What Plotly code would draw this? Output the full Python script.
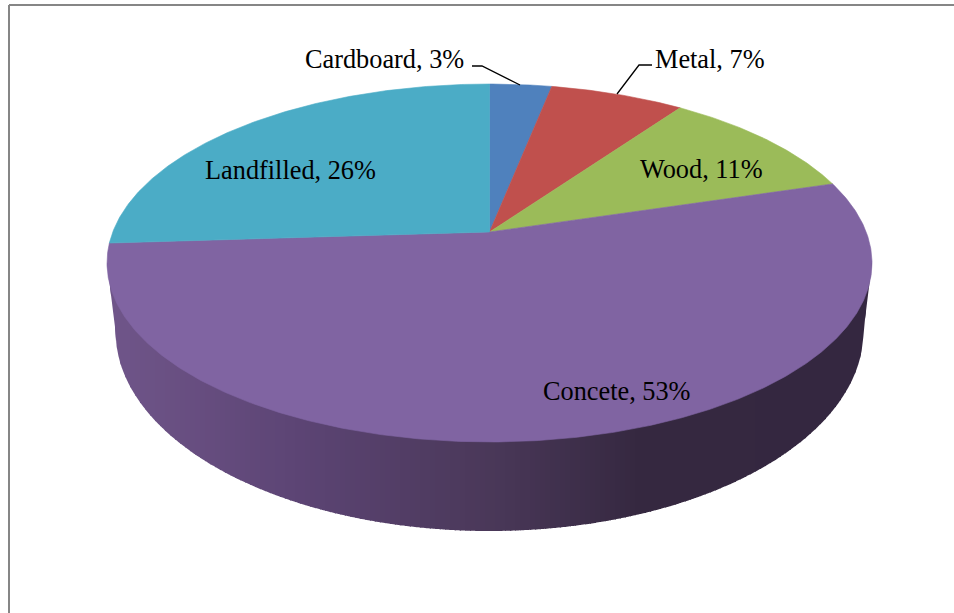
import numpy as np
import plotly.graph_objects as go

# Data
categories = ["Cardboard", "Metal", "Wood", "Concete", "Landfilled"]
shares = [3.1, 6.7, 10.5, 53.7, 26.0]
label_percents = [3, 7, 11, 53, 26]

# Styles
slice_colors = ["#4F81BD", "#C0504D", "#9BBB59", "#8064A2", "#4BACC6"]
label_centres = [(384.5, 59), (710, 59), (701.5, 169), (616.5, 391), (290.5, 170)]
leaders = {"Cardboard": [(472, 66), (482, 66), (520, 85)],
           "Metal": [(652, 65), (639, 65), (617, 94)]}
wall_stops = [(115, "#6F5589"), (300, "#5C4474"), (489, "#4A3859"), (640, "#352840"), (870, "#342740")]

# Perspective disc geometry (pixel-like axis units)
CX = 489.5
APEX_Y = 232.0
TOP_CY, TOP_A, TOP_B = 263.0, 382.5, 179.0
BOT_CY, BOT_A, BOT_B = 331.0, 374.0, 200.0
K = 0.1732
HA = TOP_A * np.sqrt(1 - K ** 2)
HB = 173.6


def rim(frac):
    """Projected rim point for a clockwise-from-top fraction of the circle."""
    ang = 2 * np.pi * np.asarray(frac)
    u, v = np.sin(ang), np.cos(ang)
    d = 1 + K * v
    return CX + HA * u / d, APEX_Y - HB * v / d


def hex_rgb(c):
    return np.array([int(c[i:i + 2], 16) for i in (1, 3, 5)], float)


def wall_color(x):
    xs = [s[0] for s in wall_stops]
    cs = np.array([hex_rgb(s[1]) for s in wall_stops])
    r = [np.interp(x, xs, cs[:, i]) for i in range(3)]
    return "rgb(%d,%d,%d)" % tuple(round(v) for v in r)


def wall_lower(x):
    """Lower silhouette of the side wall at horizontal position x."""
    x = np.asarray(x, float)
    dx = np.abs(x - CX)
    out = np.empty_like(x)
    inner = dx <= BOT_A
    out[inner] = BOT_CY + BOT_B * np.sqrt(1 - (dx[inner] / BOT_A) ** 2)
    out[~inner] = TOP_CY + (BOT_CY - TOP_CY) * (TOP_A - dx[~inner]) / (TOP_A - BOT_A)
    return out


fig = go.Figure()

# Side wall: vertical gradient bands, each overpainted by the next one to avoid seams
left, right = CX - TOP_A, CX + TOP_A
edges = np.concatenate([[left], np.arange(110, 872, 5), [right]])
for x0, x1 in zip(edges[:-1], edges[1:]):
    xs = np.linspace(x0, x1, 4)
    extra = min(x1 + 1, right)
    xs_all = np.append(xs, extra) if extra > x1 else xs
    col = wall_color(0.5 * (x0 + x1))
    fig.add_trace(go.Scatter(
        x=np.concatenate([[x0], xs_all, [xs_all[-1]]]),
        y=np.concatenate([[TOP_CY], wall_lower(xs_all), [TOP_CY]]),
        mode="none", fill="toself", fillcolor=col,
        hoverinfo="skip", showlegend=False))

# Top face slices
total = sum(shares)
start = 0.0
for name, share, color in zip(categories, shares, slice_colors):
    end = start + share / total
    f = np.linspace(start, end, max(int(share * 8), 12))
    xr, yr = rim(f)
    fig.add_trace(go.Scatter(
        x=np.concatenate([[CX], xr, [CX]]),
        y=np.concatenate([[APEX_Y], yr, [APEX_Y]]),
        mode="lines", fill="toself", fillcolor=color,
        line=dict(color=color, width=0.6), name=name,
        hoverinfo="name", showlegend=False))
    start = end

# Leader lines
for pts in leaders.values():
    fig.add_trace(go.Scatter(
        x=[p[0] for p in pts], y=[p[1] for p in pts], mode="lines",
        line=dict(color="#000000", width=1.3), hoverinfo="skip", showlegend=False))

# Labels
annotations = [
    dict(x=pos[0], y=pos[1], xref="x", yref="y", showarrow=False,
         text=f"{name}, {pct}%", xanchor="center", yanchor="middle",
         font=dict(family="Liberation Serif", size=26.3, color="#000000"))
    for name, pct, pos in zip(categories, label_percents, label_centres)
]

# Chart-area frame (only the top and left edges are in view)
shapes = [
    dict(type="line", xref="x", yref="y", x0=9, y0=5, x1=954, y1=5,
         line=dict(color="#868686", width=2), layer="below"),
    dict(type="line", xref="x", yref="y", x0=9, y0=5, x1=9, y1=613,
         line=dict(color="#868686", width=2), layer="below"),
]

fig.update_layout(
    width=954, height=613,
    margin=dict(l=0, r=0, t=0, b=0),
    paper_bgcolor="#FFFFFF", plot_bgcolor="#FFFFFF",
    xaxis=dict(range=[0, 954], visible=False, fixedrange=True),
    yaxis=dict(range=[613, 0], visible=False, fixedrange=True),
    annotations=annotations, shapes=shapes, showlegend=False,
)

fig.write_html("out.html", config={"displayModeBar": False},
               post_script="document.body.style.margin='0';document.body.style.overflow='hidden';")
